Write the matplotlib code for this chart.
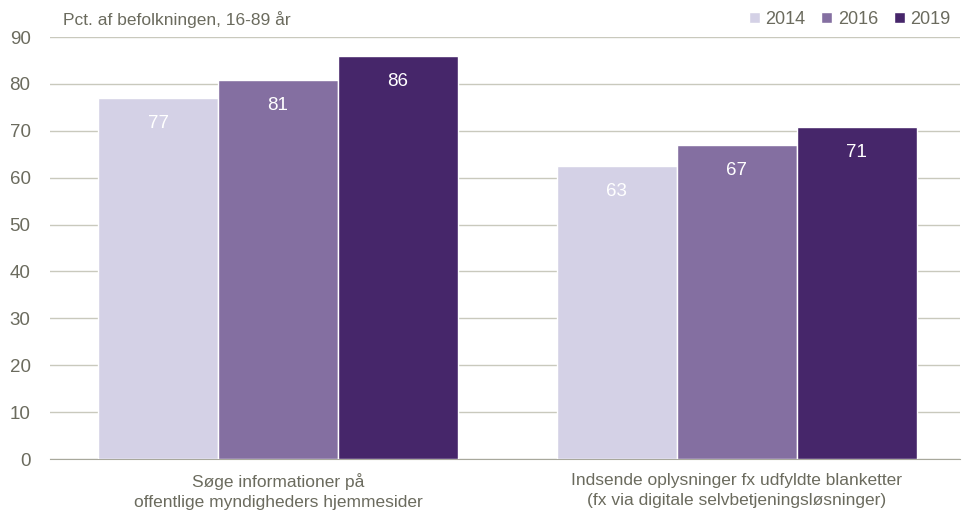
import numpy as np
import matplotlib.pyplot as plt

categories = ["Søge informationer på\noffentlige myndigheders hjemmesider",
              "Indsende oplysninger fx udfyldte blanketter\n(fx via digitale selvbetjeningsløsninger)"]
years = ["2014", "2016", "2019"]
values = {
    "2014": [77.0, 62.5],
    "2016": [80.8, 67.0],
    "2019": [85.9, 70.8],
}
labels = {
    "2014": ["77", "63"],
    "2016": ["81", "67"],
    "2019": ["86", "71"],
}
colors = {"2014": "#d4d1e6", "2016": "#846fa1", "2019": "#46266a"}

plt.rcParams["font.family"] = ["Liberation Sans Narrow", "Liberation Sans", "DejaVu Sans"]
txt = "#6b6b5e"

fig = plt.figure(figsize=(9.72, 5.19), dpi=100)
ax = fig.add_axes([0.0514, 0.1156, 0.936, 0.8131])

x = np.arange(len(categories))
w = 0.2614
for i, yr in enumerate(years):
    bars = ax.bar(x + (i - 1) * w, values[yr], width=w, color=colors[yr],
                  edgecolor="white", linewidth=1, label=yr, zorder=3)
    for b, lab in zip(bars, labels[yr]):
        ax.annotate(lab, (b.get_x() + b.get_width() / 2, b.get_height()),
                    xytext=(0, -18.5), textcoords="offset points",
                    ha="center", va="center", color="white", fontsize=13.5, zorder=4)

ax.set_ylim(0, 90)
ax.set_xlim(-0.497, 1.486)
ax.set_yticks(range(0, 91, 10))
ax.yaxis.grid(True, color="#c9c9bd", linewidth=1, zorder=0)
ax.tick_params(axis="y", length=0, pad=14, labelsize=13.5, labelcolor=txt)
ax.tick_params(axis="x", length=0, pad=10, labelsize=12.5, labelcolor=txt)
ax.set_xticks(x)
ax.set_xticklabels(categories, linespacing=1.45)
for s in ["top", "right", "left"]:
    ax.spines[s].set_visible(False)
ax.spines["bottom"].set_color("#a8a89c")

fig.text(0.065, 0.962, "Pct. af befolkningen, 16-89 år", fontsize=12.5, color=txt,
         va="center", ha="left")
leg = ax.legend(loc="lower right", bbox_to_anchor=(1.0, 1.0), ncol=3, frameon=False,
                fontsize=13, handlelength=0.6, handleheight=0.6, handletextpad=0.3,
                columnspacing=0.9, borderaxespad=0.1, labelcolor=txt)

fig.savefig("out.png", dpi=100)
